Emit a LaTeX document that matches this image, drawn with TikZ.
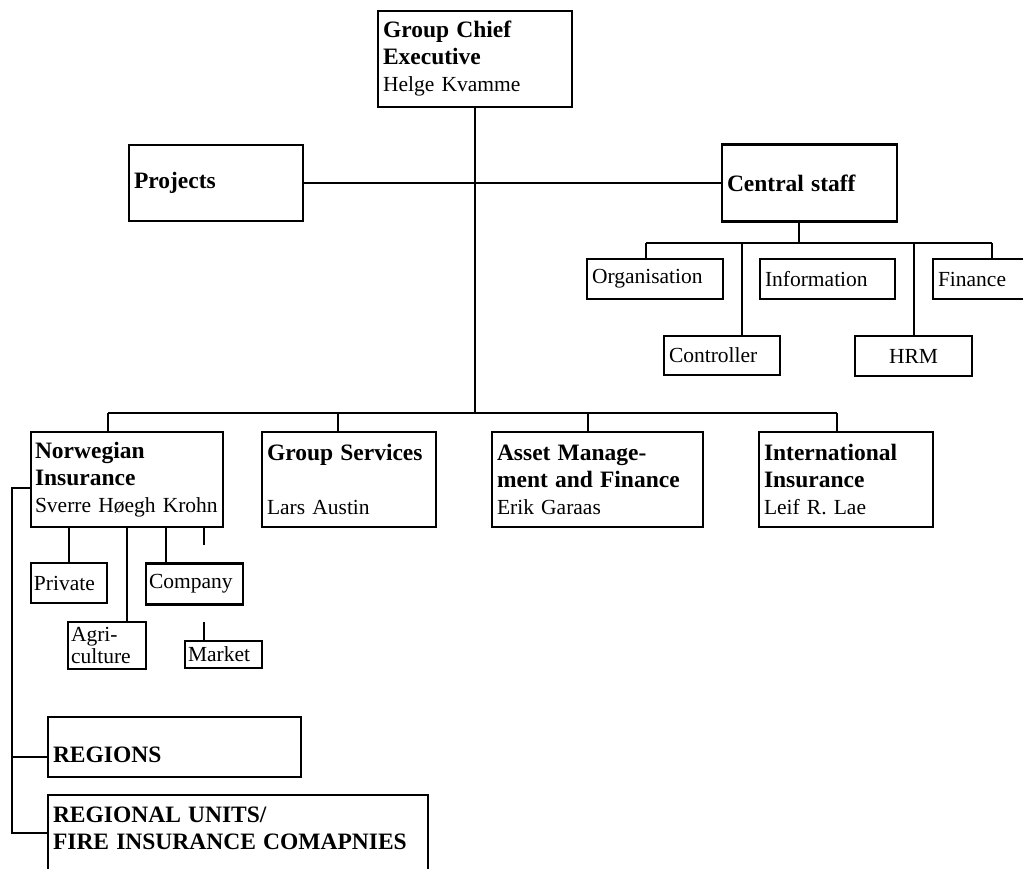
\documentclass[tikz,border=0pt]{standalone}
\usepackage{fontspec}
\setmainfont{Liberation Serif}
% bold headings are set a little larger than the names
\newcommand\hdr[1]{{\fontsize{23.5}{27}\selectfont\bfseries #1}}
\begin{document}
\begin{tikzpicture}[x=1pt,y=-1pt,
  box/.style={draw, line width=2.1pt, rectangle, inner xsep=5pt, inner ysep=0pt,
    align=left, font=\fontsize{21.5}{27}\selectfont, anchor=center},
  bx/.style n args={3}{box, minimum width=#1pt, minimum height=#2pt, text width=#3pt},
  wire/.style={line width=2.1pt}]
\useasboundingbox (0,0) rectangle (1023,869);

% top level
\node[bx={194}{96}{184}] (gce) at (475,59) {\hdr{Group Chief}\\\hdr{Executive}\\Helge Kvamme};
\node[bx={174}{76}{164}] (proj) at (216,183) {\hdr{Projects}};
\node[bx={175}{77}{165}] (cstaff) at (809.5,183) {\hdr{Central staff}};

% central staff units
\node[bx={136}{40}{126}] (org) at (655,279) {Organisation};
\node[bx={135}{40}{125}] (info) at (827.5,279) {Information};
\node[bx={107}{40}{97}] (fin) at (986.5,279) {Finance};
\node[bx={116}{39}{106}] (ctrl) at (722,355.5) {Controller};
\node[bx={117}{40}{107}, align=center] (hrm) at (913.5,356) {HRM};

% business areas
\node[bx={192}{95}{184}, inner xsep=4pt] (nor) at (127,479.5) {\hdr{Norwegian}\\\hdr{Insurance}\\Sverre Høegh Krohn};
\node[bx={174}{95}{164}] (gs) at (349,479.5) {\hdr{Group Services}\\~\\Lars Austin};
\node[bx={211}{95}{201}] (am) at (597.5,479.5) {\hdr{Asset Manage-}\\\hdr{ment and Finance}\\Erik Garaas};
\node[bx={174}{95}{164}] (intl) at (846,479.5) {\hdr{International}\\\hdr{Insurance}\\Leif R. Lae};

% Norwegian Insurance divisions
\node[bx={76}{40}{70}, inner xsep=3pt] (priv) at (69,583) {Private};
\node[bx={97}{41}{91}, inner xsep=3pt] (comp) at (194.5,584) {Company};
\node[bx={78}{47}{72}, inner xsep=3pt, font=\fontsize{21.5}{22}\selectfont] (agri) at (107,645.5) {Agri-\\culture};
\node[bx={77}{27}{71}, inner xsep=3pt] (mkt) at (223.5,654.5) {Market};

% regional level
\node[bx={253}{60}{243}] (regions) at (174.5,747) {\raisebox{-10pt}[16pt][5pt]{\hdr{REGIONS}}};
\node[bx={380}{94}{370}] (units) at (238,842) {\hdr{REGIONAL UNITS/}\\\hdr{FIRE INSURANCE COMAPNIES}\\~};

% main trunk and bar
\coordinate (hub) at (475,413);
\coordinate (barL) at (108,413);
\coordinate (barR) at (837,413);
\coordinate (jgs) at (338,413);
\coordinate (jam) at (588,413);
\draw[wire] (gce.south) -- (hub);
\draw[wire] (proj.east) -- (cstaff.west);
\draw[wire] (barL) -- (barR);
\draw[wire] (barL) -- (barL |- nor.north);
\draw[wire] (jgs) -- (jgs |- gs.north);
\draw[wire] (jam) -- (jam |- am.north);
\draw[wire] (barR) -- (barR |- intl.north);

% central staff bar
\coordinate (cs) at (799,243);
\coordinate (csL) at (646,243);
\coordinate (csR) at (992,243);
\coordinate (jctrl) at (742,243);
\coordinate (jhrm) at (914,243);
\draw[wire] (cs |- cstaff.south) -- (cs);
\draw[wire] (csL) -- (csR);
\draw[wire] (csL) -- (csL |- org.north);
\draw[wire] (jctrl) -- (jctrl |- ctrl.north);
\draw[wire] (jhrm) -- (jhrm |- hrm.north);
\draw[wire] (csR) -- (csR |- fin.north);

% Norwegian Insurance stubs
\coordinate (xa) at (127,0);
\coordinate (xc) at (166,0);
\coordinate (xm) at (204,0);
\coordinate (stubA) at (204,545);
\coordinate (stubB) at (204,622);
\draw[wire] (priv.north |- nor.south) -- (priv.north);
\draw[wire] (xa |- nor.south) -- (xa |- agri.north);
\draw[wire] (xc |- nor.south) -- (xc |- comp.north);
\draw[wire] (xm |- nor.south) -- (stubA);
\draw[wire] (stubB) -- (stubB |- mkt.north);

% left trunk to the regional level
\coordinate (tk1) at (12,488);
\coordinate (tk2) at (12,757);
\coordinate (tk3) at (12,833);
\draw[wire] (nor.west |- tk1) -- (tk1) -- (tk3) -- (tk3 -| units.west);
\draw[wire] (tk2) -- (tk2 -| regions.west);
\end{tikzpicture}
\end{document}
